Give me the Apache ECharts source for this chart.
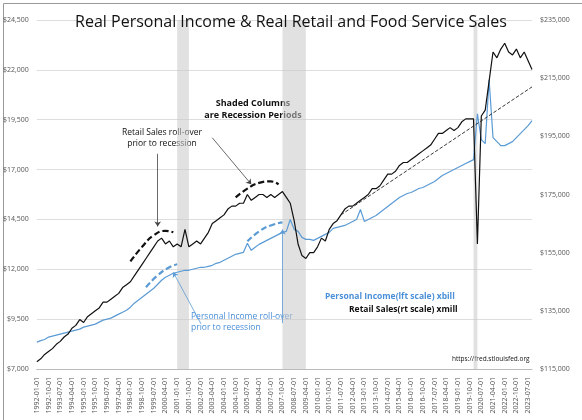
<!DOCTYPE html><html><head><meta charset="utf-8"><script src="https://cdn.jsdelivr.net/npm/echarts@6/dist/echarts.min.js"></script>
<style>html,body{margin:0;padding:0;background:#fff}#c{width:582px;height:420px}</style></head><body><div id="c"></div><script>
const years=[];for(let y=1992;y<=2023;y++)years.push(y);
const categories=[];years.forEach(y=>['01','04','07','10'].forEach(m=>categories.push(y+'-'+m+'-01')));
const retailSales=[117.5,118.5,120,121,122,123.5,124.5,126,127,129,130,132,131,133,134,135,136,138,138,139,140,141,143,144,145,147,149,151,153,155,157,159,160,158,159,157,158,157,163,157,158,159,158,160,162,165,166,167,168,170,171,171,172,172,175,173,174,175,175,174,175,174,175,176,174,172,166,158,154,153,155,155,157,160,159,163,165,166,168,170,171,171,172,173,174,175,177,177,178,180,182,182,183,185,186,186,187,188,189,190,191,192,194,196,196,197,198,197,198,200,201,201,201,158,202,204,214,224,222,225,227,224,223,225,222,224,221,218].map(v=>v*1000);
const personalIncome=[8350,8420,8480,8600,8650,8700,8750,8800,8850,8900,8950,9000,9100,9150,9200,9250,9350,9450,9500,9550,9650,9750,9850,9950,10100,10300,10450,10600,10750,10900,11050,11250,11450,11600,11700,11800,11850,11900,11950,11950,12000,12050,12100,12100,12150,12200,12300,12350,12450,12550,12650,12750,12800,12850,13300,12950,13100,13250,13350,13450,13550,13650,13750,13850,13900,14500,14000,13900,13600,13500,13500,13450,13550,13650,13750,13850,14050,14100,14150,14200,14300,14400,14500,15000,14400,14500,14600,14700,14850,15000,15150,15300,15450,15600,15700,15800,15850,15950,16050,16100,16200,16300,16400,16550,16700,16800,16900,17000,17100,17200,17300,17400,17500,19800,18500,18300,21500,18600,18400,18200,18200,18300,18400,18600,18800,19000,19200,19450];
const recessions=[['2001-01-01','2001-10-01'],['2007-10-01','2009-04-01'],['2020-01-01','2020-04-01']];
const trendLine=[['2011-07-01',168000],['2023-10-01',212000]];
const retailArc1=[['1998-01-01',152000],['1998-10-01',157000],['1999-07-01',161000],['2000-04-01',162500],['2000-10-01',162000]];
const retailArc2=[['2004-10-01',174000],['2005-07-01',177000],['2006-04-01',179000],['2007-01-01',179500],['2007-07-01',178500]];
const incomeArc1=[['1999-01-01',11100],['1999-10-01',11700],['2000-07-01',12100],['2001-01-01',12250]];
const incomeArc2=[['2005-07-01',13400],['2006-04-01',13900],['2007-01-01',14200],['2007-10-01',14350]];
const ch=echarts.init(document.getElementById('c'));
const lab={fontFamily:'Open Sans',fontSize:7,color:'#555'};
ch.setOption({
 animation:false,
 title:{text:'Real Personal Income & Real Retail and Food Service Sales',left:'center',top:9,textStyle:{fontFamily:'Open Sans',fontSize:16,fontWeight:'normal',color:'#111'}},
 grid:{left:36,right:50,top:20,bottom:51},
 xAxis:{type:'category',data:categories,boundaryGap:false,axisLabel:{...lab,rotate:90,interval:2},axisTick:{show:false},axisLine:{lineStyle:{color:'#bbb'}}},
 yAxis:[{type:'value',min:7000,max:24500,interval:2500,axisLabel:{...lab,formatter:v=>'$'+v.toLocaleString('en-US')},splitLine:{lineStyle:{color:'#ddd'}}},
  {type:'value',min:115000,max:235000,interval:20000,axisLabel:{...lab,formatter:v=>'$'+v.toLocaleString('en-US')},splitLine:{show:false}}],
 graphic:[
  {type:'rect',left:1,top:1,shape:{width:579,height:417},style:{fill:'none',stroke:'#999',lineWidth:1}},
  {type:'text',x:253,y:97,style:{text:'Shaded Columns\nare Recession Periods',align:'center',font:'bold 9px Open Sans',fill:'#111',lineHeight:12}},
  {type:'text',x:162,y:127,style:{text:'Retail Sales roll-over\nprior to recession',align:'center',font:'8.5px Open Sans',fill:'#111',lineHeight:11}},
  {type:'text',x:191,y:311,style:{text:'Personal Income roll-over\nprior to recession',font:'8.5px Open Sans',fill:'#4a8fd8',lineHeight:11}},
  {type:'text',x:325,y:292,style:{text:'Personal Income(lft scale) xbill',font:'bold 8.5px Open Sans',fill:'#4a8fd8'}},
  {type:'text',x:349,y:305,style:{text:'Retail Sales(rt scale) xmill',font:'bold 8.5px Open Sans',fill:'#111'}},
  {type:'text',x:452,y:356,style:{text:'https://fred.stlouisfed.org',font:'6.5px Open Sans',fill:'#111'}}
 ],
 series:[
  {name:'Personal Income',type:'line',yAxisIndex:0,data:personalIncome,symbol:'none',lineStyle:{color:'#5b9bd5',width:1.2},
   markArea:{silent:true,itemStyle:{color:'rgba(200,200,200,0.55)'},data:recessions.map(r=>[{xAxis:r[0]},{xAxis:r[1]}])},
   markLine:{silent:true,symbol:['none','arrow'],symbolSize:5,label:{show:false},lineStyle:{color:'#5b9bd5',type:'solid',width:0.8},
    data:[[{coord:['2002-07-01',9300]},{coord:['2000-10-01',11850]}],[{coord:['2007-10-01',9300]},{coord:['2007-10-01',14000]}]]}},
  {name:'Retail Sales',type:'line',yAxisIndex:1,data:retailSales,symbol:'none',lineStyle:{color:'#111',width:1.2},
   markLine:{silent:true,symbol:['none','arrow'],symbolSize:5,label:{show:false},lineStyle:{color:'#444',type:'solid',width:0.8},
    data:[[{coord:['1999-10-01',189000]},{coord:['1999-10-01',164000]}],[{coord:['2003-04-01',194500]},{coord:['2005-10-01',178500]}]]}},
  {type:'line',yAxisIndex:1,data:trendLine,symbol:'none',lineStyle:{color:'#222',type:'dashed',width:0.9}},
  {type:'line',yAxisIndex:1,data:retailArc1,symbol:'none',smooth:true,lineStyle:{color:'#111',type:[6,3],width:2.2}},
  {type:'line',yAxisIndex:1,data:retailArc2,symbol:'none',smooth:true,lineStyle:{color:'#111',type:[6,3],width:2.2}},
  {type:'line',yAxisIndex:0,data:incomeArc1,symbol:'none',smooth:true,lineStyle:{color:'#5b9bd5',type:[6,3],width:2.2}},
  {type:'line',yAxisIndex:0,data:incomeArc2,symbol:'none',smooth:true,lineStyle:{color:'#5b9bd5',type:[6,3],width:2.2}}
 ]
});
</script></body></html>
